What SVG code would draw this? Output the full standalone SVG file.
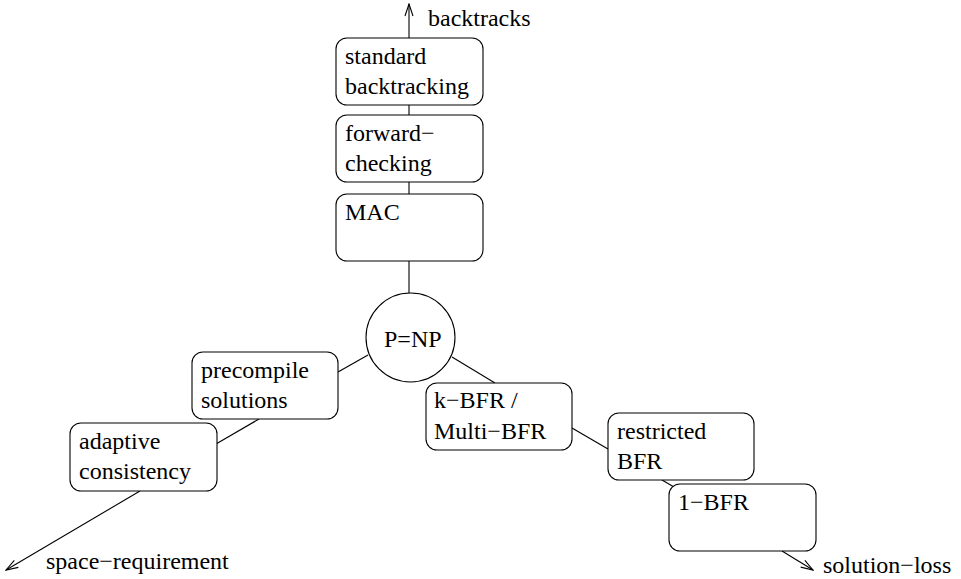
<svg xmlns="http://www.w3.org/2000/svg" width="961" height="579" viewBox="0 0 961 579">
<style>
.box{fill:#fff;stroke:#000;stroke-width:1.1}
.ln{fill:none;stroke:#000;stroke-width:1.1}
text{font-family:"Liberation Serif","Times New Roman",serif;font-size:24px;fill:#000}
</style>
<defs>
<marker id="arr" markerWidth="14" markerHeight="10" refX="13" refY="5" orient="auto" markerUnits="userSpaceOnUse">
<path d="M1,1 L13,5 L1,9" fill="none" stroke="#000" stroke-width="1.1"/>
</marker>
</defs>
<rect width="961" height="579" fill="#fff"/>
<g id="connectors">
<line class="ln" x1="409" y1="38" x2="409" y2="4" marker-end="url(#arr)"/>
<line class="ln" x1="409" y1="105" x2="409" y2="115"/>
<line class="ln" x1="409" y1="182" x2="409" y2="194"/>
<line class="ln" x1="409" y1="261" x2="409" y2="293"/>
<line class="ln" x1="368" y1="355" x2="338" y2="372"/>
<line class="ln" x1="259" y1="419" x2="216" y2="444"/>
<line class="ln" x1="140" y1="491" x2="6" y2="570" marker-end="url(#arr)"/>
<line class="ln" x1="452" y1="357" x2="495" y2="383"/>
<line class="ln" x1="572" y1="428" x2="608" y2="449"/>
<line class="ln" x1="662" y1="480" x2="674" y2="487"/>
<line class="ln" x1="782" y1="551" x2="813" y2="570" marker-end="url(#arr)"/>
</g>
<g id="label-backtracks"><text x="428" y="26">backtracks</text></g>
<g id="label-space"><text x="46" y="569">space−requirement</text></g>
<g id="label-solution"><text x="823" y="573">solution−loss</text></g>
<g id="standard">
<rect class="box" x="336" y="38" width="147" height="67" rx="11"/>
<text x="345" y="64">standard</text>
<text x="345" y="94">backtracking</text>
</g>
<g id="forward">
<rect class="box" x="336" y="115" width="147" height="67" rx="11"/>
<text x="345" y="141">forward−</text>
<text x="345" y="171">checking</text>
</g>
<g id="mac">
<rect class="box" x="336" y="194" width="147" height="67" rx="11"/>
<text x="345" y="220">MAC</text>
</g>
<g id="pnp">
<circle class="box" cx="410.5" cy="337.5" r="44.5"/>
<text x="384" y="347">P=NP</text>
</g>
<g id="precompile">
<rect class="box" x="192" y="352" width="146" height="67" rx="11"/>
<text x="201" y="378">precompile</text>
<text x="201" y="408">solutions</text>
</g>
<g id="adaptive">
<rect class="box" x="70" y="423" width="147" height="68" rx="11"/>
<text x="79" y="449">adaptive</text>
<text x="79" y="479">consistency</text>
</g>
<g id="kbfr">
<rect class="box" x="426" y="383" width="146" height="67" rx="11"/>
<text x="434" y="408">k−BFR /</text>
<text x="434" y="439">Multi−BFR</text>
</g>
<g id="restricted">
<rect class="box" x="608" y="413" width="146" height="67" rx="11"/>
<text x="617" y="439">restricted</text>
<text x="617" y="469">BFR</text>
</g>
<g id="onebfr">
<rect class="box" x="669" y="484" width="147" height="67" rx="11"/>
<text x="678" y="510">1−BFR</text>
</g>
</svg>
